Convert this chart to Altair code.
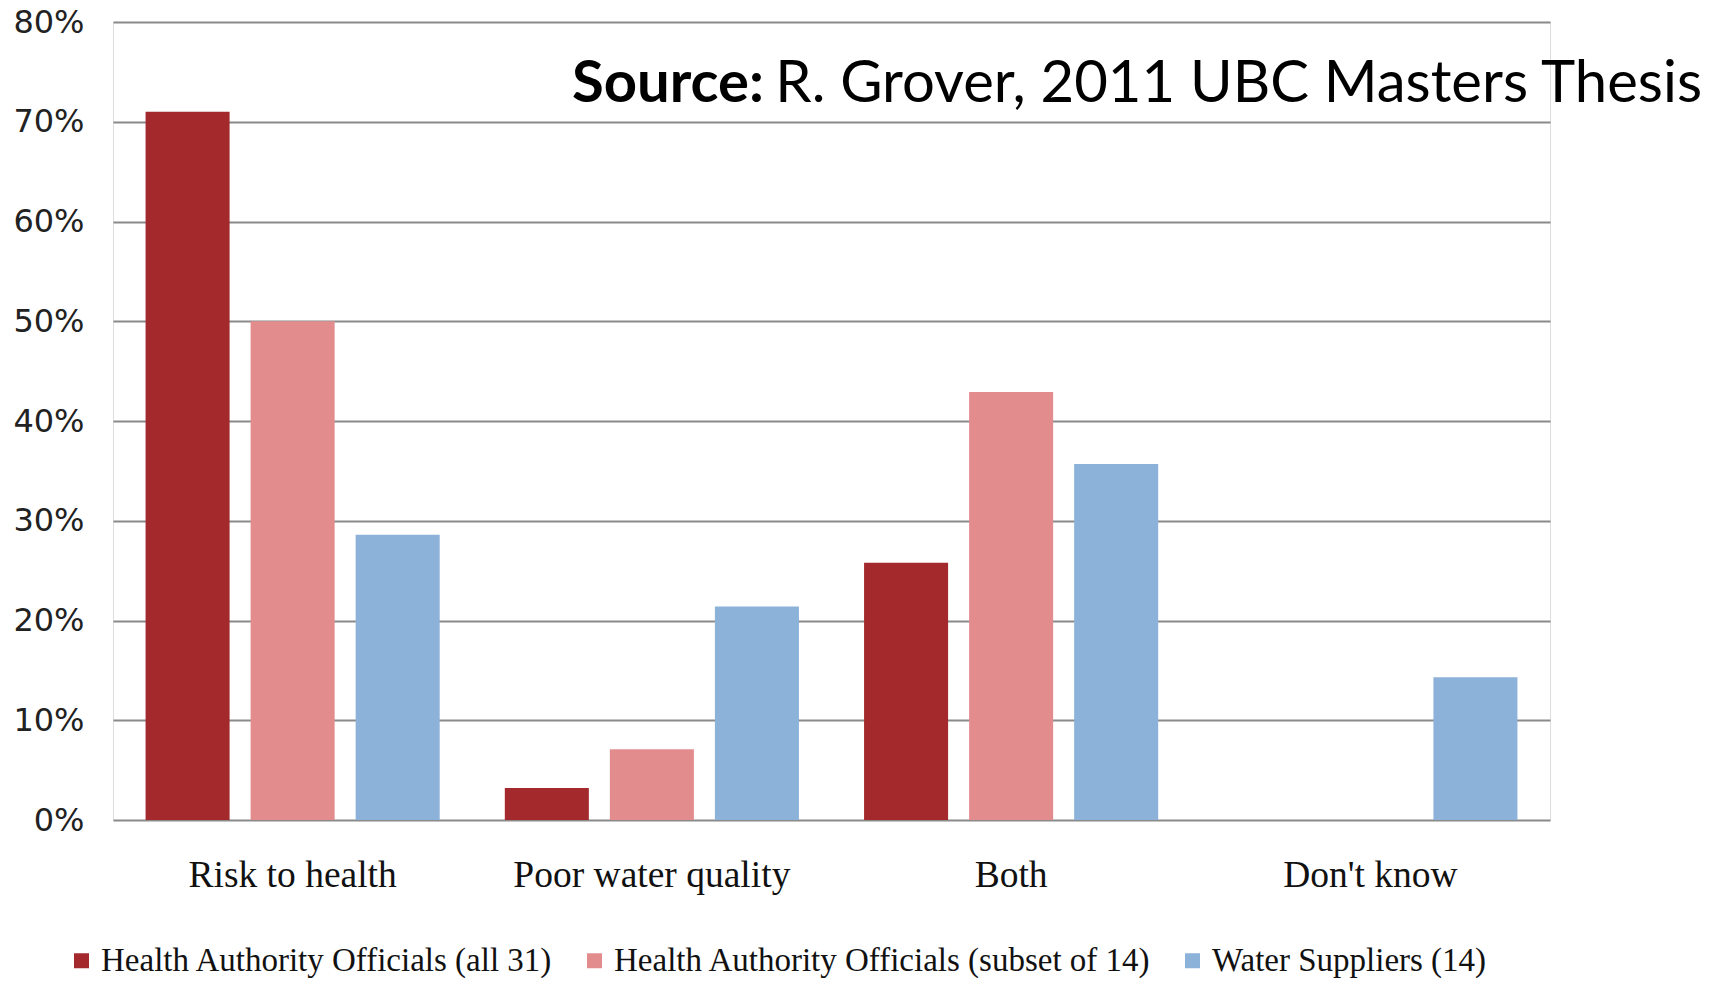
import altair as alt
import pandas as pd

# Survey answers: share of respondents (%) per reason category
categories = ["Risk to health", "Poor water quality", "Both", "Don't know"]
groups = [
    "Health Authority Officials (all 31)",
    "Health Authority Officials (subset of 14)",
    "Water Suppliers (14)",
]
officials_all = [71.0, 3.2, 25.8, 0.0]
officials_subset = [50.0, 7.1, 42.9, 0.0]
water_suppliers = [28.6, 21.4, 35.7, 14.3]
bar_colors = ["#a3292d", "#e38c8e", "#8cb2d9"]
y_ticks = [0, 10, 20, 30, 40, 50, 60, 70, 80]

source_bold = "Source:"
source_rest = "R. Grover, 2011 UBC Masters Thesis"

rows = []
for g, series in zip(groups, [officials_all, officials_subset, water_suppliers]):
    for c, v in zip(categories, series):
        rows.append({"category": c, "group": g, "value": v})
df = pd.DataFrame(rows)

W, H = 1437, 798

bars = alt.Chart(df).mark_bar().encode(
    x=alt.X(
        "category:N",
        sort=categories,
        scale=alt.Scale(paddingInner=0, paddingOuter=0),
        axis=alt.Axis(
            title=None,
            labelAngle=0,
            labelFont="Liberation Serif",
            labelFontSize=37.5,
            labelColor="#111111",
            labelPadding=36,
            labelLimit=0,
            ticks=False,
            domain=False,
        ),
    ),
    xOffset=alt.XOffset(
        "group:N", sort=groups, scale=alt.Scale(paddingInner=0.2, paddingOuter=0.31)
    ),
    y=alt.Y(
        "value:Q",
        scale=alt.Scale(domain=[0, 80], nice=False),
        axis=alt.Axis(
            title=None,
            values=y_ticks,
            labelExpr="datum.value + '%'",
            labelFont="DejaVu Sans",
            labelFontSize=32,
            labelColor="#222222",
            labelPadding=29,
            grid=True,
            gridColor="#8a8a8a",
            gridWidth=2,
            ticks=False,
            domain=False,
        ),
    ),
    color=alt.Color(
        "group:N",
        sort=groups,
        scale=alt.Scale(domain=groups, range=bar_colors),
        legend=alt.Legend(
            title=None,
            orient="none",
            direction="horizontal",
            legendX=-48,
            legendY=922,
            padding=0,
            symbolType="square",
            symbolSize=225,
            symbolStrokeWidth=0,
            labelFont="Liberation Serif",
            labelFontSize=33,
            labelColor="#111111",
            labelOffset=3,
            columnPadding=24,
            labelLimit=0,
        ),
    ),
)

title_bold = alt.Chart(pd.DataFrame({"t": [source_bold]})).mark_text(
    font="Lato", fontSize=58, fontWeight="bold", align="left", baseline="alphabetic",
    color="black",
).encode(text="t:N", x=alt.value(459), y=alt.value(80))

title_rest = alt.Chart(pd.DataFrame({"t": [source_rest]})).mark_text(
    font="Lato", fontSize=58, align="right", baseline="alphabetic", color="black",
).encode(text="t:N", x=alt.value(1589), y=alt.value(80))

chart = (
    alt.layer(bars, title_bold, title_rest)
    .properties(
        width=W,
        height=H,
        autosize=alt.AutoSizeParams(type="none"),
        padding={"left": 113, "top": 22, "right": 177, "bottom": 161},
    )
    .configure_view(stroke=None)
    .configure(background="white")
)

chart.save("out.html", embed_options={"renderer": "svg", "actions": False})
